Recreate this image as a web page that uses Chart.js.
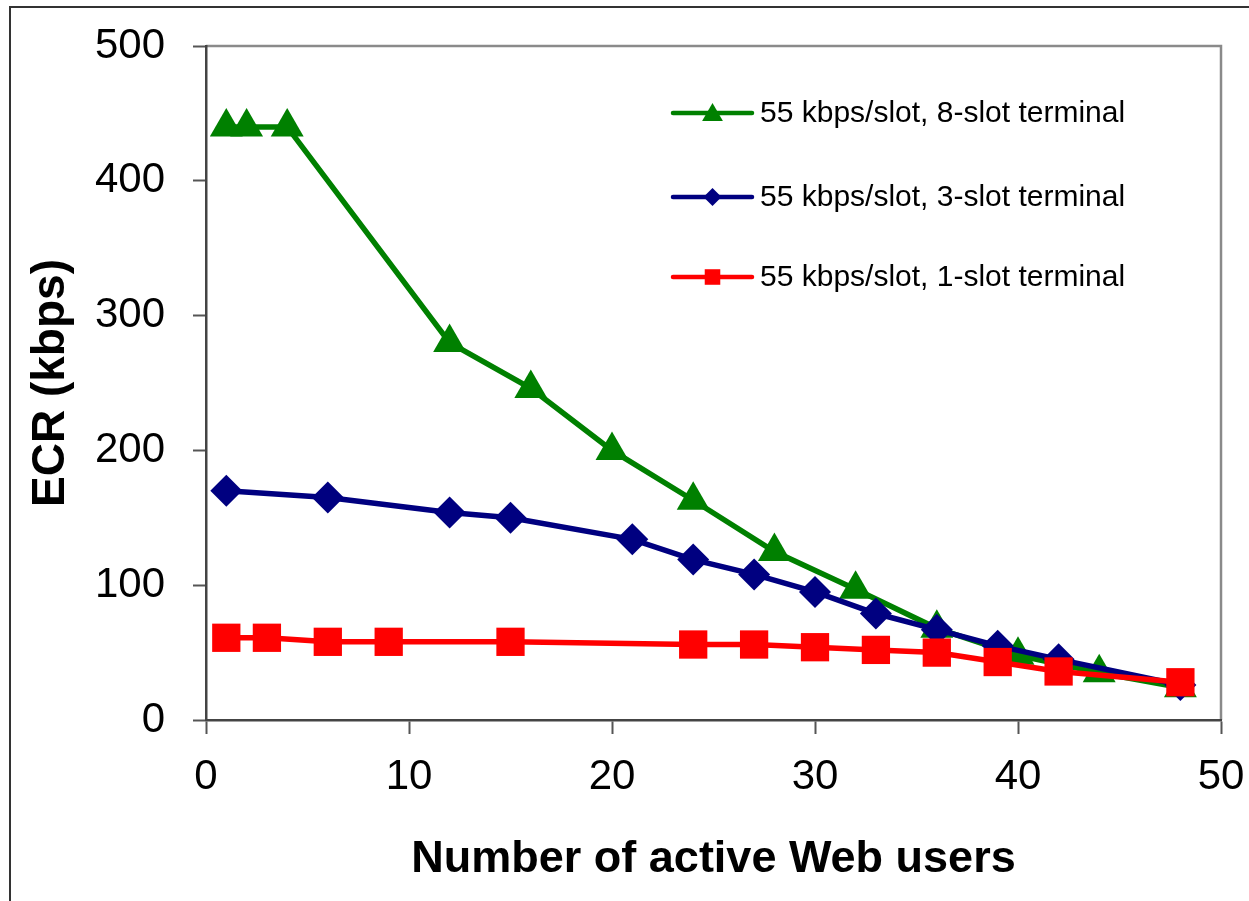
<!DOCTYPE html>
<html>
<head>
<meta charset="utf-8">
<script src="https://cdn.jsdelivr.net/npm/chart.js@4/dist/chart.umd.min.js"></script>
<style>
html,body{margin:0;padding:0;background:#fff;}
#wrap{width:1249px;height:901px;position:relative;}
</style>
</head>
<body>
<div id="wrap"><canvas id="c" width="1249" height="901"></canvas></div>
<script>
// ---- data ----
const seriesLabels = ["55 kbps/slot, 1-slot terminal", "55 kbps/slot, 3-slot terminal", "55 kbps/slot, 8-slot terminal"];
const users1 = [1, 3, 6, 9, 15, 24, 27, 30, 33, 36, 39, 42, 48];
const ecr1   = [61, 61, 58, 58, 58, 56, 56, 54, 52, 50, 43, 36, 28];
const users3 = [1, 6, 12, 15, 21, 24, 27, 30, 33, 36, 39, 42, 48];
const ecr3   = [170, 165, 154, 150, 134, 119, 108, 95, 79, 67, 55, 45, 26];
const users8 = [1, 2, 4, 12, 16, 20, 24, 28, 32, 36, 40, 44, 48];
const ecr8   = [440, 440, 440, 280, 246, 200, 163, 125, 97, 68, 48, 35, 24];
const xTicks = [0, 10, 20, 30, 40, 50];
const yTicks = [0, 100, 200, 300, 400, 500];
const xTitle = "Number of active Web users";
const yTitle = "ECR (kbps)";

const toPts = (xs, ys) => xs.map((x, i) => ({x: x, y: ys[i]}));
const FONT = "'Liberation Sans', Arial, sans-serif";

const frame = {
  id: 'frame',
  beforeDraw(chart) {
    const ctx = chart.ctx;
    ctx.save();
    ctx.fillStyle = '#fff';
    ctx.fillRect(0, 0, chart.width, chart.height);
    ctx.strokeStyle = '#333';
    ctx.lineWidth = 2;
    ctx.beginPath();
    ctx.moveTo(10, chart.height);
    ctx.lineTo(10, 7);
    ctx.lineTo(chart.width, 7);
    ctx.stroke();
    const a = chart.chartArea;
    ctx.strokeStyle = '#8a8a8a';
    ctx.lineWidth = 2.5;
    ctx.beginPath();
    ctx.moveTo(a.left, a.top);
    ctx.lineTo(a.right, a.top);
    ctx.lineTo(a.right, a.bottom);
    ctx.stroke();
    ctx.restore();
  }
};

function shape(ctx, style, x, y, r) {
  ctx.beginPath();
  if (style === 'triangle') {
    ctx.moveTo(x, y - r);
    ctx.lineTo(x + r * 0.866, y + r * 0.5);
    ctx.lineTo(x - r * 0.866, y + r * 0.5);
  } else if (style === 'rectRot') {
    ctx.moveTo(x - r, y); ctx.lineTo(x, y - r); ctx.lineTo(x + r, y); ctx.lineTo(x, y + r);
  } else {
    const s = r * 0.707;
    ctx.rect(x - s, y - s, 2 * s, 2 * s);
  }
  ctx.closePath();
  ctx.fill();
}

const legendPlugin = {
  id: 'customLegend',
  afterDraw(chart) {
    const ctx = chart.ctx;
    const a = chart.chartArea;
    const order = [2, 1, 0];
    const rowY = [113, 197, 277];
    const x0 = a.left + 467, x1 = a.left + 546;
    ctx.save();
    order.forEach((di, k) => {
      const ds = chart.data.datasets[di];
      const y = rowY[k];
      ctx.strokeStyle = ds.borderColor;
      ctx.lineWidth = 4.5;
      ctx.lineCap = 'round';
      ctx.beginPath(); ctx.moveTo(x0, y); ctx.lineTo(x1, y); ctx.stroke();
      ctx.fillStyle = ds.backgroundColor;
      const r = ds.pointStyle === 'triangle' ? 12 : (ds.pointStyle === 'rectRot' ? 9 : 11);
      shape(ctx, ds.pointStyle, (x0 + x1) / 2, ds.pointStyle === 'triangle' ? y + 2 : y, r);
      ctx.fillStyle = '#000';
      ctx.font = "30px " + FONT;
      ctx.textBaseline = 'middle';
      ctx.textAlign = 'left';
      ctx.fillText(ds.label, x1 + 8, y + 1);
    });
    ctx.restore();
  }
};

new Chart(document.getElementById('c'), {
  type: 'line',
  data: {
    datasets: [
      {label: seriesLabels[0], data: toPts(users1, ecr1), borderColor: '#ff0000', backgroundColor: '#ff0000',
       pointStyle: 'rect', pointRadius: 20, pointHoverRadius: 20, borderWidth: 5.5, pointBorderWidth: 0},
      {label: seriesLabels[1], data: toPts(users3, ecr3), borderColor: '#000080', backgroundColor: '#000080',
       pointStyle: 'rectRot', pointRadius: 16, pointHoverRadius: 16, borderWidth: 5.5, pointBorderWidth: 0},
      {label: seriesLabels[2], data: toPts(users8, ecr8), borderColor: '#008000', backgroundColor: '#008000',
       pointStyle: 'triangle', pointRadius: 19, pointHoverRadius: 19, borderWidth: 5.5, pointBorderWidth: 0}
    ]
  },
  options: {
    responsive: false,
    animation: false,
    events: [],
    clip: false,
    layout: {padding: {left: 0, top: 46, right: 28, bottom: 0}},
    plugins: {legend: {display: false}, tooltip: {enabled: false}},
    elements: {line: {tension: 0}},
    scales: {
      x: {
        type: 'linear', min: 0, max: 50,
        afterBuildTicks: s => { s.ticks = xTicks.map(v => ({value: v})); },
        afterFit: s => { s.height = 181; s.paddingLeft = 0; s.paddingRight = 0; },
        grid: {display: true, drawOnChartArea: false, drawTicks: true, tickLength: 14, color: '#555', tickWidth: 2},
        border: {display: true, color: '#444', width: 2.5},
        ticks: {color: '#000', padding: 18, font: {family: FONT, size: 42}, maxRotation: 0},
        title: {display: true, text: xTitle, color: '#000', font: {family: FONT, size: 45, weight: 'bold'}, padding: {top: 0, bottom: 14}}
      },
      y: {
        type: 'linear', min: 0, max: 500,
        afterBuildTicks: s => { s.ticks = yTicks.map(v => ({value: v})); },
        afterFit: s => { s.width = 206; s.paddingTop = 0; s.paddingBottom = 0; },
        grid: {display: true, drawOnChartArea: false, drawTicks: true, tickLength: 13, color: '#555', tickWidth: 2},
        border: {display: true, color: '#444', width: 2.5},
        ticks: {color: '#000', padding: 28, font: {family: FONT, size: 42}},
        title: {display: true, text: yTitle, color: '#000', font: {family: FONT, size: 46, weight: 'bold'}, padding: {top: 24, bottom: 0}}
      }
    }
  },
  plugins: [frame, legendPlugin]
});
</script>
</body>
</html>
